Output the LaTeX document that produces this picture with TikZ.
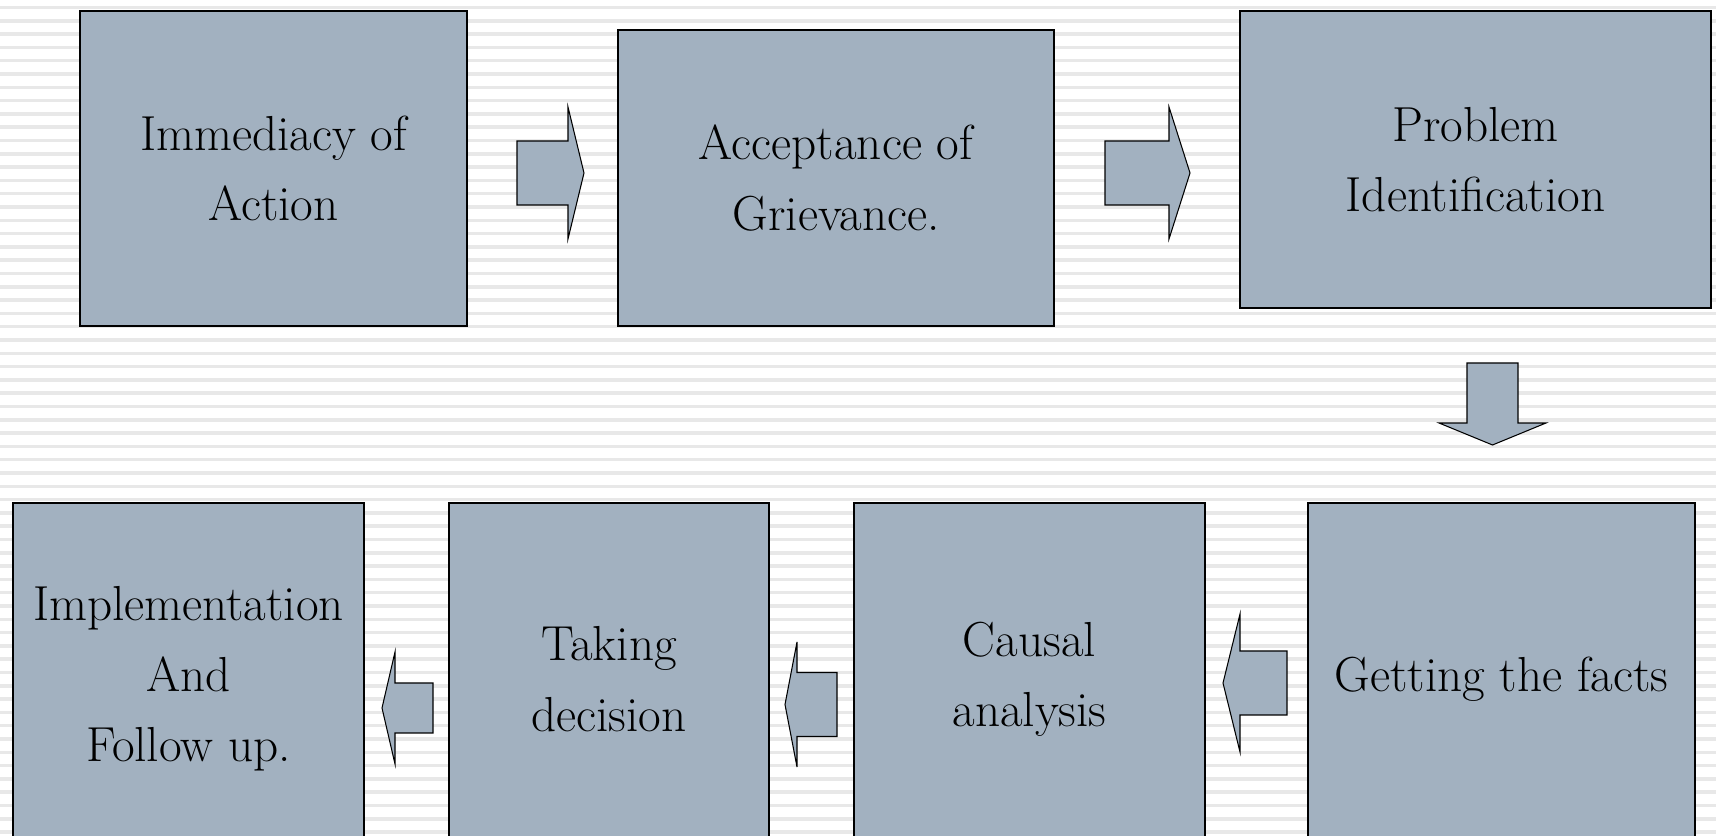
\documentclass[tikz,border=0pt]{standalone}
\usepackage{tikz}
\usetikzlibrary{positioning}
\definecolor{boxfill}{RGB}{162,177,192}
\definecolor{stripe}{RGB}{232,232,232}
\tikzstyle{stage}=[rectangle,draw=black,line width=0.9pt,fill=boxfill,align=center,inner sep=0pt,font=\fontsize{28}{40}\selectfont]
\tikzstyle{flow}=[draw=black,line width=0.6pt,fill=boxfill,line join=miter]

\begin{document}
\begin{tikzpicture}

	\useasboundingbox (0,0) rectangle (34.32,16.72);
	\clip (0,0) rectangle (34.32,16.72);

	% striped background
	\foreach \y in {0.078,0.344,...,16.8}
		\fill[stripe] (0,\y-0.035) rectangle (34.32,\y+0.035);

	% top row
	\node [stage, minimum width=7.74cm, minimum height=6.30cm] (immediacy) at (5.47,13.35) {Immediacy of\\Action};
	\node [stage, minimum width=8.72cm, minimum height=5.92cm] (acceptance) at (16.72,13.16) {Acceptance of\\Grievance.};
	\node [stage, minimum width=9.42cm, minimum height=5.94cm] (problem) at (29.51,13.53) {Problem\\Identification};

	% bottom row
	\node [stage, minimum width=7.74cm, minimum height=7.04cm] (facts) at (30.03,3.14) {Getting the facts};
	\node [stage, minimum width=7.02cm, minimum height=7.04cm] (causal) at (20.59,3.14) {Causal\\analysis};
	\node [stage, minimum width=6.40cm, minimum height=7.04cm] (decision) at (12.18,3.14) {Taking\\decision};
	\node [stage, minimum width=7.02cm, minimum height=7.04cm] (followup) at (3.77,3.14) {Implementation\\And\\Follow up.};

	% block arrows
	\draw[flow] (10.34,12.62) -- (11.36,12.62) -- (11.36,11.94) -- (11.68,13.26) -- (11.36,14.58) -- (11.36,13.90) -- (10.34,13.90) -- cycle;
	\draw[flow] (22.10,12.62) -- (23.38,12.62) -- (23.38,11.94) -- (23.80,13.26) -- (23.38,14.58) -- (23.38,13.90) -- (22.10,13.90) -- cycle;
	\draw[flow] (29.34,9.46) -- (29.34,8.26) -- (28.78,8.26) -- (29.85,7.82) -- (30.92,8.26) -- (30.36,8.26) -- (30.36,9.46) -- cycle;
	\draw[flow] (25.74,3.70) -- (24.80,3.70) -- (24.80,4.44) -- (24.46,3.06) -- (24.80,1.68) -- (24.80,2.42) -- (25.74,2.42) -- cycle;
	\draw[flow] (16.74,3.27) -- (15.94,3.27) -- (15.94,3.88) -- (15.70,2.63) -- (15.94,1.38) -- (15.94,1.99) -- (16.74,1.99) -- cycle;
	\draw[flow] (8.66,3.06) -- (7.90,3.06) -- (7.90,3.68) -- (7.64,2.56) -- (7.90,1.44) -- (7.90,2.06) -- (8.66,2.06) -- cycle;

\end{tikzpicture}
\end{document}
